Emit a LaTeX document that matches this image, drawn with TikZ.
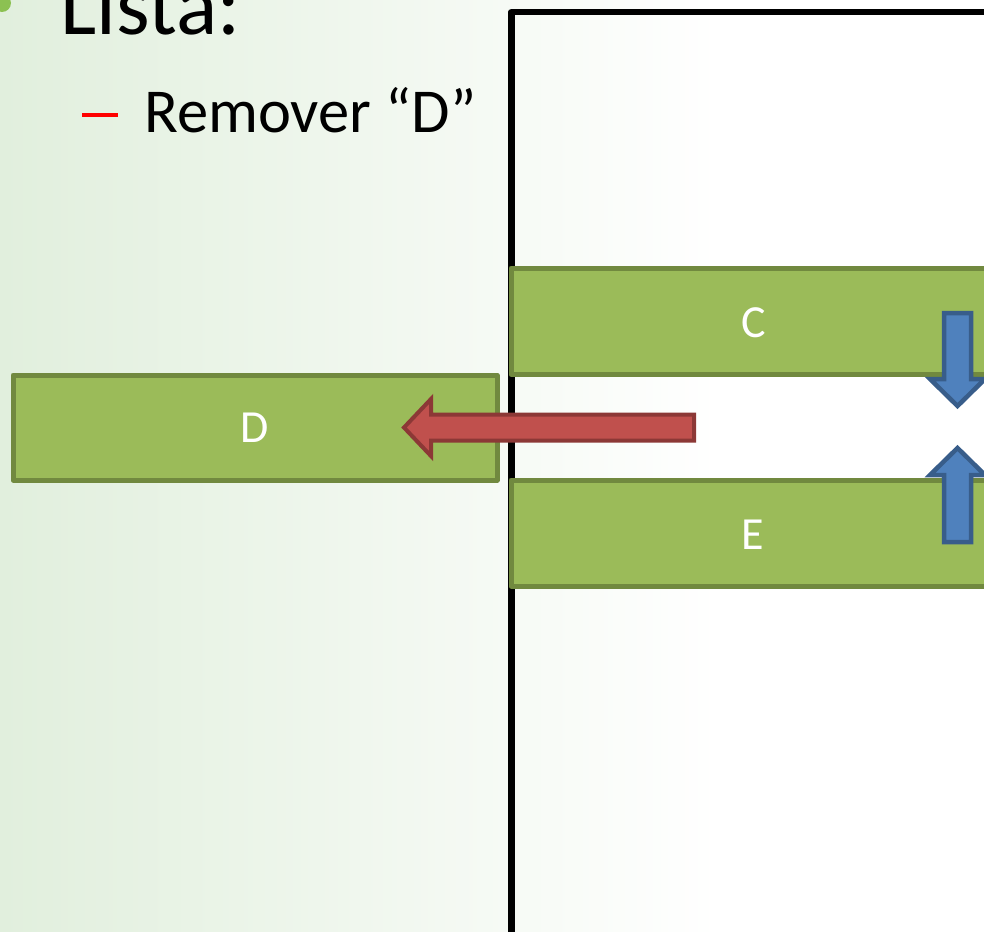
\documentclass[tikz,border=0pt]{standalone}
\usepackage{fontspec}
\setmainfont{Carlito}
\definecolor{bgleft}{RGB}{225,239,221}
\definecolor{boxfill}{RGB}{155,187,89}
\definecolor{boxline}{RGB}{113,137,63}
\definecolor{redfill}{RGB}{192,80,77}
\definecolor{redline}{RGB}{140,56,54}
\definecolor{bluefill}{RGB}{79,129,189}
\definecolor{blueline}{RGB}{56,93,138}
\definecolor{bulletgreen}{RGB}{140,193,82}
\tikzset{
  listbox/.style={fill=boxfill, draw=boxline, line width=5pt, line join=round},
  boxlabel/.style={text=white, font=\fontsize{46}{55}\selectfont, inner sep=0pt},
  redarrow/.style={fill=redfill, draw=redline, line width=4pt, line join=miter},
  bluearrow/.style={fill=bluefill, draw=blueline, line width=4.5pt, line join=miter},
}
\begin{document}
\begin{tikzpicture}[x=1pt,y=-1pt]
\useasboundingbox (0,0) rectangle (984,931);
\clip (0,0) rectangle (984,931);
% background wash
\shade[left color=bgleft, right color=white] (0,0) rectangle (720,931);
\fill[white] (719,0) rectangle (984,931);
% bullet text
\fill[bulletgreen] (2,3) circle (9);
\node[anchor=base west, inner sep=0pt, font=\fontsize{86}{103}\selectfont] (title) at (60,35) {Lista:};
\fill[red] (82,113) rectangle (118,117.5);
\node[anchor=base west, inner sep=0pt, font=\fontsize{62.5}{75}\selectfont] (sub) at (144,132) {Remover “D”};
% list frame
\draw[line width=6.5pt, line join=round] (511.5,960) -- (511.5,12) -- (1000,12);
% removed element
\draw[listbox] (13,375) rectangle (497,480);
\node[boxlabel] (D) at (255,428) {D};
% remaining elements
\draw[listbox] (511,268) rectangle (1000,374.5);
\node[boxlabel] (C) at (754,323) {C};
\draw[listbox] (511,480) rectangle (1000,586);
\node[boxlabel] (E) at (753,535) {E};
% removal arrow
\draw[redarrow] (694,414.5) -- (431,414.5) -- (431,399) -- (404,427.5)
  -- (431,456) -- (431,440.5) -- (694,440.5) -- cycle;
% closing-gap arrows
\draw[bluearrow] (944,313) -- (971,313) -- (971,379) -- (985,379) -- (957.5,406)
  -- (930,379) -- (944,379) -- cycle;
\draw[bluearrow] (944,542) -- (971,542) -- (971,475) -- (985,475) -- (957.5,448)
  -- (930,475) -- (944,475) -- cycle;
\end{tikzpicture}
\end{document}
